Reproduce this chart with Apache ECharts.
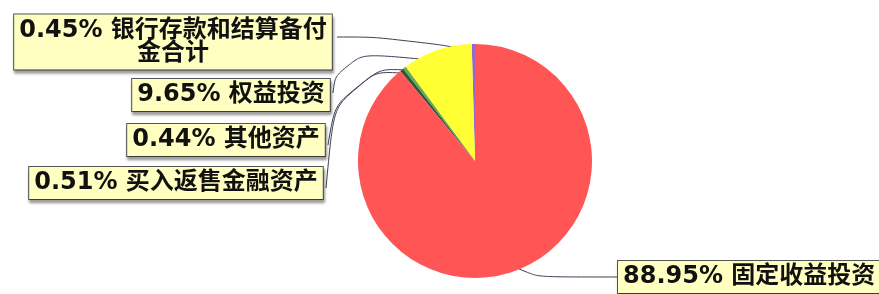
<!DOCTYPE html>
<html>
<head>
<meta charset="utf-8">
<script src="https://cdn.jsdelivr.net/npm/echarts@6/dist/echarts.min.js"></script>
<style>
  html, body { margin: 0; padding: 0; background: #fff; }
  #chart { width: 879px; height: 294px; }
</style>
</head>
<body>
<div id="chart"></div>
<script>
// 资产类别 + 占比（%）
const categories = ['银行存款和结算备付金合计', '权益投资', '其他资产', '买入返售金融资产', '固定收益投资']
const percents = [0.45, 9.65, 0.44, 0.51, 88.95]

const sliceColors = ['#9966cc', '#ffff33', '#66aa55', '#335533', '#ff5555']

// 标签框位置 + 引导线（起点, 拐点, 终点）
const labelSpots = [
  { x: 173, y: 42, align: 'center', line: [[470, 51], [410, 37], [337, 37]] },
  { x: 231, y: 95, align: 'center', line: [[440, 61], [338, 51], [333, 93]] },
  { x: 226, y: 140, align: 'center', line: [[406, 70], [341, 67], [328, 145]] },
  { x: 176, y: 183, align: 'center', line: [[401, 73], [337, 70], [326, 188]] },
  { x: 618, y: 277, align: 'left', line: [[510, 262], [526, 277], [618, 277]] }
]

const chart = echarts.init(document.getElementById('chart'))

chart.setOption({
  animation: false,
  series: [{
    type: 'pie',
    center: [475, 161],
    radius: 117,
    startAngle: 90,
    clockwise: false,
    minAngle: 0,
    avoidLabelOverlap: false,
    data: categories.map((name, i) => ({
      name,
      value: percents[i],
      itemStyle: { color: sliceColors[i] }
    })),
    label: {
      show: true,
      position: 'outside',
      formatter: p => {
        const txt = p.value.toFixed(2) + '% ' + p.name
        return txt.length > 16 ? txt.slice(0, 15) + '\n' + txt.slice(15) : txt
      },
      fontFamily: '"DejaVu Sans", "Noto Sans CJK SC", sans-serif',
      fontWeight: 'bold',
      fontSize: 24,
      lineHeight: 23,
      color: '#111',
      backgroundColor: '#ffffc2',
      borderColor: '#555',
      borderWidth: 1,
      padding: [5, 5, 4, 5],
      shadowColor: 'rgba(0,0,0,0.35)',
      shadowOffsetX: 1,
      shadowOffsetY: 3,
      shadowBlur: 3
    },
    labelLine: {
      show: true,
      smooth: 0.6,
      lineStyle: { color: '#3a3f55', width: 1 }
    },
    labelLayout: params => {
      const s = labelSpots[params.dataIndex]
      return {
        x: s.x,
        y: s.y,
        align: s.align,
        verticalAlign: 'middle',
        labelLinePoints: s.line
      }
    },
    emphasis: { disabled: true }
  }]
})
</script>
</body>
</html>
